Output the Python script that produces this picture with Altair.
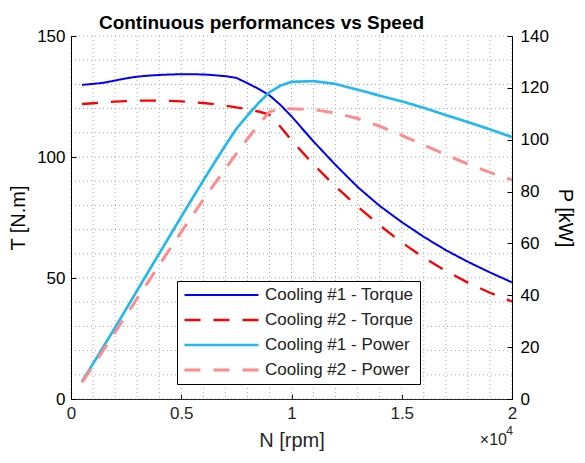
import altair as alt
import pandas as pd

# ---- data ----
speed = [500, 1000, 1500, 2000, 2500, 3000, 3500, 4000, 4500, 5000,
         5500, 6000, 6500, 7000, 7500, 8000, 8500, 9000, 9500, 10000,
         11000, 12000, 13000, 14000, 15000, 16000, 17000, 18000, 19000, 20000]
torque1 = [129.8, 130.2, 130.7, 131.6, 132.5, 133.2, 133.6, 133.9, 134.1, 134.2,
           134.2, 134.1, 133.8, 133.4, 132.7, 130.5, 128.2, 125.5, 121.5, 116.8,
           106.4, 96.7, 87.6, 79.8, 73.1, 67.0, 61.5, 56.7, 52.3, 48.2]
torque2 = [121.9, 122.2, 122.6, 122.9, 123.1, 123.3, 123.3, 123.3, 123.2, 123.0,
           122.7, 122.3, 121.8, 121.2, 120.5, 119.7, 118.8, 117.5, 112.5, 106.9,
           96.9, 87.8, 79.5, 71.8, 64.7, 58.4, 52.9, 48.1, 43.9, 40.3]
power1 = [6.80, 13.63, 20.53, 27.56, 34.69, 41.85, 48.97, 56.09, 63.19, 70.27,
          77.29, 84.26, 91.08, 97.79, 104.22, 109.33, 114.11, 118.28, 120.87, 122.31,
          122.6, 121.5, 119.3, 117.0, 114.8, 112.3, 109.5, 106.8, 104.0, 101.0]
power2 = [6.38, 12.80, 19.26, 25.74, 32.23, 38.74, 45.19, 51.65, 58.06, 64.40,
          70.67, 76.84, 82.91, 88.84, 94.64, 100.28, 105.75, 110.74, 111.92, 111.95,
          111.6, 110.3, 108.2, 105.2, 101.7, 97.9, 94.2, 90.6, 87.4, 84.5]

series = ["Cooling #1 - Torque", "Cooling #2 - Torque",
          "Cooling #1 - Power", "Cooling #2 - Power"]
colors = ["#0000FF", "#FF0000", "#22B8F0", "#FF8C8C"]
dashes = [[1, 0], [16, 13], [1, 0], [16, 13]]
widths = [2, 3, 2, 3]

x_ticks = [0, 5000, 10000, 15000, 20000]
t_ticks = [0, 50, 100, 150]
p_ticks = [0, 20, 40, 60, 80, 100, 120, 140]
x_grid = list(range(0, 20001, 1000))
t_grid = list(range(0, 151, 10))

tdf = pd.DataFrame({
    "speed": speed * 2,
    "T": torque1 + torque2,
    "series": [series[0]] * len(speed) + [series[1]] * len(speed),
})
pdf = pd.DataFrame({
    "speed": speed * 2,
    "P": power1 + power2,
    "series": [series[2]] * len(speed) + [series[3]] * len(speed),
})

FONT = "Liberation Sans"
GRID = "#a8a8a8"

xscale = alt.Scale(domain=[0, 20000], nice=False, zero=False)
tscale = alt.Scale(domain=[0, 150], nice=False)
pscale = alt.Scale(domain=[0, 140], nice=False)

xaxis = alt.Axis(values=x_ticks, labelExpr="datum.value / 10000", title="N [rpm]",
                 grid=False, tickSize={"expr": "-5"}, labelPadding=11,
                 labelFontSize=17, titleFontSize=20, titleFontWeight="normal",
                 domainColor="#262626", tickColor="#262626", labelColor="#262626",
                 titleColor="#262626", titlePadding=9, zindex=1, labelFlush=False)
taxis = alt.Axis(values=t_ticks, title="T [N.m]", grid=False, tickSize={"expr": "-5"},
                 labelPadding=11, labelFontSize=17, titleFontSize=20,
                 titleFontWeight="normal", domainColor="black", tickColor="black",
                 labelColor="black", titleColor="black", titlePadding=8, zindex=1)
paxis = alt.Axis(values=p_ticks, title="P [kW]", orient="right", grid=False,
                 tickSize={"expr": "-5"}, labelPadding=13, labelFontSize=17,
                 titleFontSize=20, titleFontWeight="normal", domainColor="black",
                 tickColor="black", labelColor="black", titleColor="black",
                 titlePadding=6, zindex=1)

color_enc = alt.Color("series:N", scale=alt.Scale(domain=series, range=colors),
                      sort=series,
                      legend=alt.Legend(title=None, orient="none", legendX=106, legendY=245,
                                        symbolType="stroke", symbolSize=5476,
                                        clipHeight=16, rowPadding=8, padding=6,
                                        labelOffset=5, labelFontSize=17, labelColor="#222222",
                                        labelFont=FONT, strokeColor="black", fillColor="white",
                                        cornerRadius=0))
dash_enc = alt.StrokeDash("series:N", scale=alt.Scale(domain=series, range=dashes),
                          sort=series, legend=alt.Legend(title=None))
width_enc = alt.StrokeWidth("series:N", scale=alt.Scale(domain=series, range=widths),
                            sort=series, legend=alt.Legend(title=None))

grid_x = alt.Chart(pd.DataFrame({"gx": x_grid})).mark_rule(
    color=GRID, strokeDash=[1, 3], strokeWidth=1
).encode(x=alt.X("gx:Q", scale=xscale, axis=xaxis))

grid_y = alt.Chart(pd.DataFrame({"gy": t_grid})).mark_rule(
    color=GRID, strokeDash=[1, 3], strokeWidth=1
).encode(y=alt.Y("gy:Q", scale=tscale, axis=taxis))

torque = alt.Chart(tdf).mark_line(strokeCap="butt").encode(
    x=alt.X("speed:Q", scale=xscale, axis=xaxis),
    y=alt.Y("T:Q", scale=tscale, axis=taxis),
    color=color_enc, strokeDash=dash_enc, strokeWidth=width_enc,
    order="speed:Q",
)

power = alt.Chart(pdf).mark_line(strokeCap="butt").encode(
    x=alt.X("speed:Q", scale=xscale, axis=xaxis),
    y=alt.Y("P:Q", scale=pscale, axis=paxis),
    color=color_enc, strokeDash=dash_enc, strokeWidth=width_enc,
    order="speed:Q",
)

exp_base = alt.Chart(pd.DataFrame({"t": ["\u00d710"]})).mark_text(
    align="right", baseline="middle", fontSize=16, font=FONT, color="#262626", dx=-5
).encode(x=alt.datum(20000), y=alt.value(404), text="t:N")
exp_pow = alt.Chart(pd.DataFrame({"t": ["4"]})).mark_text(
    align="right", baseline="middle", fontSize=12, font=FONT, color="#262626", dx=1
).encode(x=alt.datum(20000), y=alt.value(395), text="t:N")

left = alt.layer(grid_x, grid_y, torque, exp_base, exp_pow)

chart = alt.layer(left, power).resolve_scale(y="independent").properties(
    width=441, height=363,
    autosize=alt.AutoSizeParams(type="none"),
    padding={"left": 63, "top": 28, "right": 65, "bottom": 52},
    title=alt.TitleParams("Continuous performances vs Speed", anchor="middle", dx=-30,
                          dy=15, fontSize=19, fontWeight="bold", font=FONT, color="black",
                          offset=9),
).configure(font=FONT).configure_view(stroke=None)

chart.save("out.html", embed_options={"renderer": "svg", "actions": False})
